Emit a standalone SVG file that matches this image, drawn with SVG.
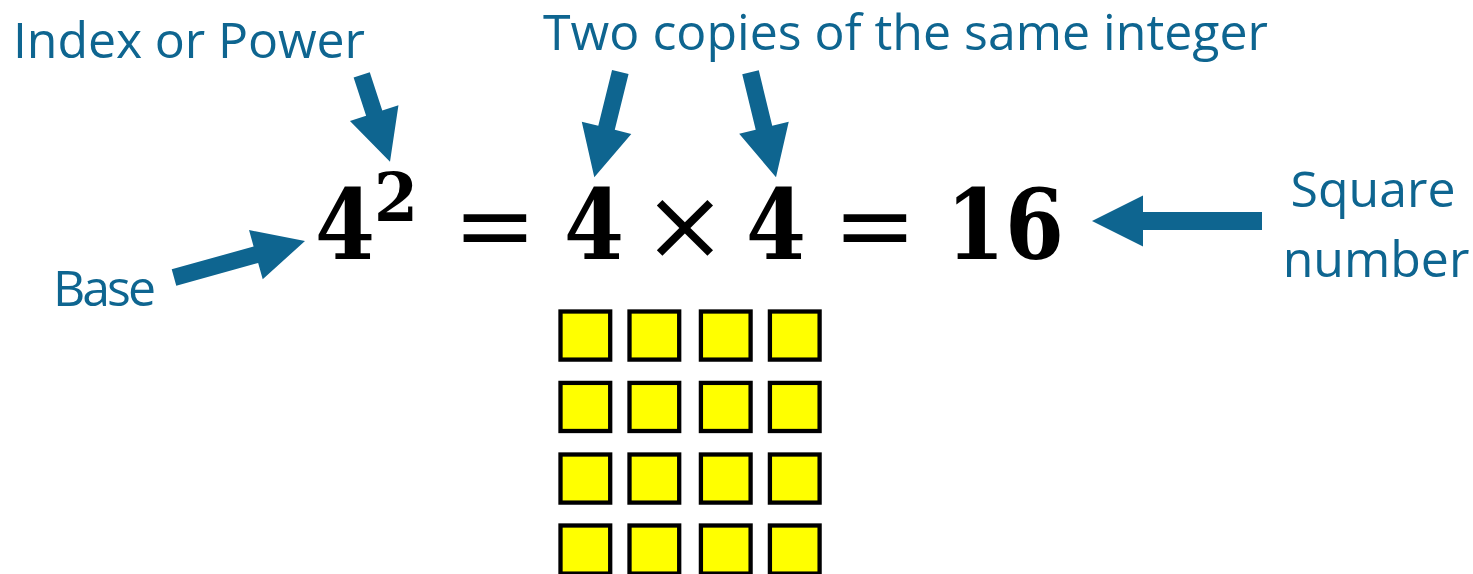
<svg xmlns="http://www.w3.org/2000/svg" width="1473" height="574" viewBox="0 0 1473 574">
<style>
.lbl{font-family:"Open Sans","Liberation Sans",sans-serif;font-size:50px;fill:#0E6590}
.math{font-family:"DejaVu Serif","Liberation Serif",serif;font-weight:bold;fill:#000}
.op{font-family:"DejaVu Serif","Liberation Serif",serif;font-weight:normal;fill:#000}
.arr{fill:#0E6590}
.sq{fill:#FFFF00;stroke:#000;stroke-width:4.3}
</style>
<rect width="1473" height="574" fill="#fff"/>
<g id="label-index"><text class="lbl" x="13" y="58" textLength="352">Index or Power</text></g>
<g id="label-copies"><text class="lbl" x="543" y="50" textLength="725">Two copies of the same integer</text></g>
<g id="label-square"><text class="lbl" x="1373" y="207" text-anchor="middle">Square</text><text class="lbl" x="1376" y="277" text-anchor="middle">number</text></g>
<g id="label-base"><text class="lbl" x="53" y="306" textLength="103">Base</text></g>
<g id="equation">
<text class="math" font-size="97" x="315" y="259" textLength="60" lengthAdjust="spacingAndGlyphs">4</text>
<text class="math" font-size="68" x="374" y="221" textLength="44" lengthAdjust="spacingAndGlyphs">2</text>
<text class="op" font-size="100" x="495" y="259" text-anchor="middle">=</text>
<text class="math" font-size="97" x="564" y="259" textLength="60" lengthAdjust="spacingAndGlyphs">4</text>
<text class="op" font-size="100" x="685" y="259" text-anchor="middle">×</text>
<text class="math" font-size="97" x="746" y="259" textLength="60" lengthAdjust="spacingAndGlyphs">4</text>
<text class="op" font-size="100" x="875" y="259" text-anchor="middle">=</text>
<text class="math" font-size="97" x="946" y="259" textLength="118" lengthAdjust="spacingAndGlyphs">16</text>
</g>
<g id="grid">
<rect class="sq" x="560.5" y="311.5" width="49.7" height="48.1"/>
<rect class="sq" x="629.5" y="311.5" width="49.7" height="48.1"/>
<rect class="sq" x="700.9" y="311.5" width="49.7" height="48.1"/>
<rect class="sq" x="769.9" y="311.5" width="49.7" height="48.1"/>
<rect class="sq" x="560.5" y="382.9" width="49.7" height="48.1"/>
<rect class="sq" x="629.5" y="382.9" width="49.7" height="48.1"/>
<rect class="sq" x="700.9" y="382.9" width="49.7" height="48.1"/>
<rect class="sq" x="769.9" y="382.9" width="49.7" height="48.1"/>
<rect class="sq" x="560.5" y="454.5" width="49.7" height="48.1"/>
<rect class="sq" x="629.5" y="454.5" width="49.7" height="48.1"/>
<rect class="sq" x="700.9" y="454.5" width="49.7" height="48.1"/>
<rect class="sq" x="769.9" y="454.5" width="49.7" height="48.1"/>
<rect class="sq" x="560.5" y="525.5" width="49.7" height="48.1"/>
<rect class="sq" x="629.5" y="525.5" width="49.7" height="48.1"/>
<rect class="sq" x="700.9" y="525.5" width="49.7" height="48.1"/>
<rect class="sq" x="769.9" y="525.5" width="49.7" height="48.1"/>
</g>
<g id="connectors">
<polygon class="arr" transform="translate(390,161.7) rotate(71.96)" points="-91.4,-8.5 -51,-8.5 -51,-25.5 0,0 -51,25.5 -51,8.5 -91.4,8.5"/>
<polygon class="arr" transform="translate(594.3,177.3) rotate(103.87)" points="-108.5,-8.5 -51,-8.5 -51,-25.5 0,0 -51,25.5 -51,8.5 -108.5,8.5"/>
<polygon class="arr" transform="translate(776,177.3) rotate(76.35)" points="-108,-8.5 -51,-8.5 -51,-25.5 0,0 -51,25.5 -51,8.5 -108,8.5"/>
<polygon class="arr" transform="translate(1092,221) rotate(180)" points="-170,-9 -51,-9 -51,-25.5 0,0 -51,25.5 -51,9 -170,9"/>
<polygon class="arr" transform="translate(305,241) rotate(-15.57)" points="-136,-8.5 -51,-8.5 -51,-25.5 0,0 -51,25.5 -51,8.5 -136,8.5"/>
</g>
</svg>
